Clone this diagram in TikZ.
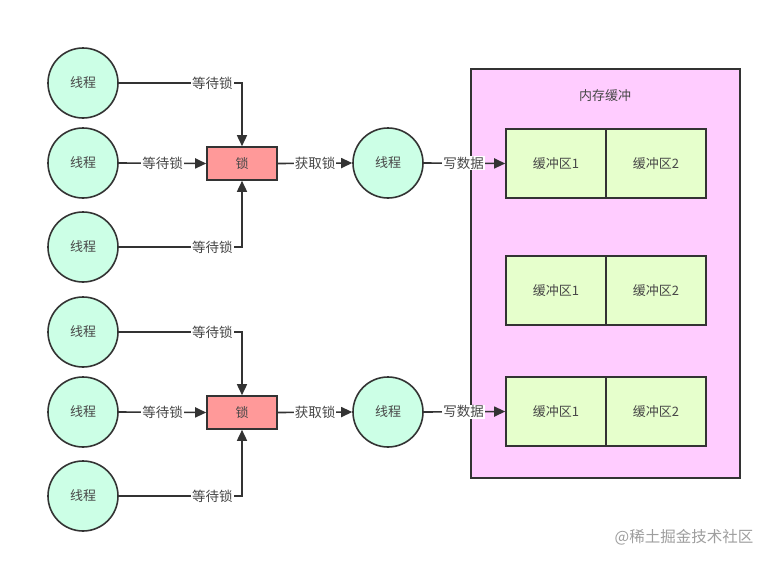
\documentclass[tikz,border=0pt]{standalone}
\usepackage{fontspec}
\setmainfont{Noto Sans CJK SC}
\usetikzlibrary{arrows.meta}
\definecolor{ln}{HTML}{333333}
\definecolor{thr}{HTML}{CCFFE6}
\definecolor{lk}{HTML}{FF9999}
\definecolor{mem}{HTML}{FFCCFF}
\definecolor{buf}{HTML}{E6FFCC}
\tikzset{
  thread/.style={circle,draw=ln,line width=1.6pt,fill=thr,minimum size=70pt,inner sep=0pt,font=\fontsize{13}{15}\selectfont,text=ln!90},
  lockbox/.style={draw=ln,line width=1.6pt,fill=lk,minimum width=70pt,minimum height=33pt,inner sep=0pt,font=\fontsize{13}{15}\selectfont,text=ln!90},
  bufbox/.style={draw=ln,line width=1.6pt,fill=buf,minimum width=100pt,minimum height=69pt,inner sep=0pt,font=\fontsize{13}{15}\selectfont,text=ln!90},
  conn/.style={draw=ln,line width=1.6pt,-{Triangle[length=11pt,width=10pt]}},
  lab/.style={fill=white,inner sep=1pt,font=\fontsize{13.5}{15}\selectfont,text=ln!90},
}
\begin{document}
\begin{tikzpicture}[x=1pt,y=-1pt]
\useasboundingbox (0,0) rectangle (772,563);
\fill[white] (0,0) rectangle (772,563);
% memory box
\node[draw=ln,line width=1.6pt,fill=mem,minimum width=269pt,minimum height=409pt,inner sep=0pt] (mem) at (605.5,273.5) {};
\node[font=\fontsize{13}{15}\selectfont,text=ln!90] (memlab) at (605,96) {内存缓冲};
\foreach \r/\y in {1/163.5,2/290.5,3/411.5}{
  \node[bufbox] (b\r a) at (556,\y) {缓冲区1};
  \node[bufbox] (b\r b) at (656,\y) {缓冲区2};
}
\foreach \g/\oy in {1/0,2/249}{
  \node[thread] (t\g a) at (83,83+\oy) {线程};
  \node[thread] (t\g b) at (83,163+\oy) {线程};
  \node[thread] (t\g c) at (83,247+\oy) {线程};
  \node[lockbox] (l\g) at (242,163.5+\oy) {锁};
  \node[thread] (m\g) at (388,163+\oy) {线程};
  \draw[conn] (t\g a.east) -- node[lab,pos=0.76]{等待锁} (t\g a.east -| l\g.north) -- (l\g.north);
  \draw[conn] (t\g b.east) -- node[lab,pos=0.5]{等待锁} (l\g.west);
  \draw[conn] (t\g c.east) -- node[lab,pos=0.76]{等待锁} (t\g c.east -| l\g.south) -- (l\g.south);
  \draw[conn] (l\g.east) -- node[lab]{获取锁} (m\g.west);
}
\draw[conn] (m1.east) -- node[lab,pos=0.49]{写数据} (b1a.west);
\draw[conn] (m2.east) -- node[lab,pos=0.49]{写数据} (b3a.west);
\node[font=\fontsize{15.5}{17}\selectfont,text=black!38] (wm) at (684,537) {@稀土掘金技术社区};
\end{tikzpicture}
\end{document}
